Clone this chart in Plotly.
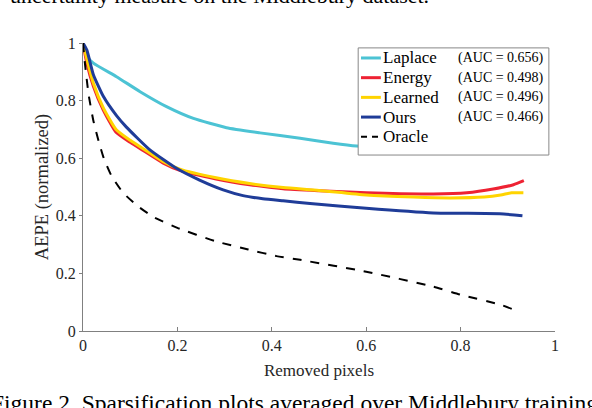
import plotly.graph_objects as go

# sparsification curves (x = fraction of removed pixels)
x_laplace = [0, 0.008, 0.022, 0.071, 0.121, 0.177, 0.234, 0.304, 0.375, 0.46, 0.53, 0.58, 0.65, 0.75, 0.85, 0.93]
laplace = [1.0, 0.955, 0.93, 0.883, 0.831, 0.779, 0.738, 0.706, 0.688, 0.669, 0.652, 0.642, 0.635, 0.63, 0.625, 0.62]

x_energy = [0, 0.008, 0.022, 0.043, 0.07, 0.1, 0.13, 0.169, 0.205, 0.282, 0.353, 0.424, 0.5, 0.6, 0.742, 0.813, 0.869, 0.912, 0.934]
energy = [1.0, 0.93, 0.85, 0.767, 0.69, 0.655, 0.624, 0.584, 0.558, 0.528, 0.508, 0.494, 0.487, 0.48, 0.476, 0.48, 0.493, 0.508, 0.522]

x_learned = [0, 0.008, 0.022, 0.043, 0.07, 0.1, 0.13, 0.169, 0.205, 0.282, 0.353, 0.424, 0.5, 0.6, 0.7, 0.778, 0.85, 0.885, 0.908, 0.933]
learned = [1.0, 0.945, 0.86, 0.775, 0.7, 0.662, 0.63, 0.589, 0.562, 0.532, 0.512, 0.498, 0.488, 0.472, 0.465, 0.462, 0.465, 0.472, 0.48, 0.48]

x_ours = [0, 0.008, 0.022, 0.043, 0.071, 0.092, 0.141, 0.198, 0.247, 0.297, 0.339, 0.381, 0.424, 0.481, 0.6, 0.742, 0.883, 0.931]
ours = [1.0, 0.976, 0.89, 0.815, 0.748, 0.708, 0.63, 0.565, 0.524, 0.49, 0.47, 0.459, 0.452, 0.443, 0.426, 0.41, 0.407, 0.4]

x_oracle = [0, 0.004, 0.012, 0.022, 0.033, 0.044, 0.06, 0.085, 0.115, 0.15, 0.2, 0.28, 0.35, 0.41, 0.46, 0.6, 0.742, 0.8, 0.883, 0.924]
oracle = [1.0, 0.93, 0.82, 0.73, 0.66, 0.6, 0.54, 0.48, 0.435, 0.395, 0.358, 0.312, 0.283, 0.26, 0.247, 0.206, 0.154, 0.126, 0.092, 0.067]

names = ["Laplace", "Energy", "Learned", "Ours", "Oracle"]
auc = ["0.656", "0.498", "0.496", "0.466", None]
colors = ["#4cc3d4", "#ee2233", "#ffd400", "#1f3c98", "black"]
tick_vals = [0, 0.2, 0.4, 0.6, 0.8, 1]
tick_text = ["0", "0.2", "0.4", "0.6", "0.8", "1"]

series = [(x_laplace, laplace), (x_energy, energy), (x_learned, learned),
          (x_ours, ours), (x_oracle, oracle)]

fig = go.Figure()
for i, (xs, ys) in enumerate(series):
    fig.add_trace(go.Scatter(
        x=xs, y=ys, mode="lines", name=names[i], showlegend=False,
        line=dict(color=colors[i], width=2 if i == 4 else 3,
                  dash="dash" if i == 4 else "solid",
                  shape="spline", smoothing=0.5)))

# legend drawn by hand (MATLAB style box with an AUC column)
box_x0, box_x1, box_y0, box_y1 = 0.583, 0.987, 0.611, 0.983
row_top, row_step = 0.948, 0.0684
fig.add_shape(type="rect", xref="paper", yref="paper", layer="above",
              x0=box_x0, x1=box_x1, y0=box_y0, y1=box_y1,
              fillcolor="white", line=dict(color="#888888", width=1))
for i, name in enumerate(names):
    ry = row_top - i * row_step
    fig.add_shape(type="line", xref="paper", yref="paper", layer="above",
                  x0=0.589, x1=0.631, y0=ry, y1=ry,
                  line=dict(color=colors[i], width=2 if i == 4 else 3,
                            dash="6px,5px" if i == 4 else "solid"))
    fig.add_annotation(text=name, xref="paper", yref="paper", x=0.631, y=ry,
                       xanchor="left", yanchor="middle", showarrow=False,
                       font=dict(size=17, color="black"))
    if auc[i]:
        fig.add_annotation(text="(AUC = %s)" % auc[i], xref="paper", yref="paper",
                           x=0.981, y=ry, xanchor="right", yanchor="middle",
                           showarrow=False, font=dict(size=14, color="black"))

fig.update_layout(
    width=592, height=408,
    margin=dict(l=83, r=37, t=43, b=77),
    plot_bgcolor="white", paper_bgcolor="white",
    font=dict(family="Liberation Serif", size=16, color="#262626"),
    xaxis=dict(range=[0, 1], tickvals=tick_vals, ticktext=tick_text,
               showline=True, linecolor="#808080", linewidth=1,
               ticks="inside", ticklen=4, tickcolor="#808080",
               showgrid=False, zeroline=False,
               title=dict(text="Removed pixels", font=dict(size=17), standoff=10)),
    yaxis=dict(range=[0, 1], tickvals=tick_vals, ticktext=tick_text,
               showline=True, linecolor="#808080", linewidth=1,
               ticks="outside", ticklen=3, tickcolor="#808080",
               showgrid=False, zeroline=False,
               title=dict(text="AEPE (normalized)", font=dict(size=18.5), standoff=2)),
)

# fragments of the surrounding caption text, clipped by the image edges
fig.add_annotation(text="uncertainty measure on the Middlebury dataset.",
                   xref="paper", yref="paper", x=-0.159, y=1.114,
                   xanchor="left", yanchor="bottom", showarrow=False,
                   font=dict(size=22, color="black"))
fig.add_annotation(text="Figure 2. Sparsification plots averaged over Middlebury training",
                   xref="paper", yref="paper", x=-0.2, y=-0.198,
                   xanchor="left", yanchor="top", showarrow=False,
                   font=dict(size=23.5, color="black"))

fig.write_html("out.html", config={"displayModeBar": False},
               post_script="document.body.style.margin='0';")
